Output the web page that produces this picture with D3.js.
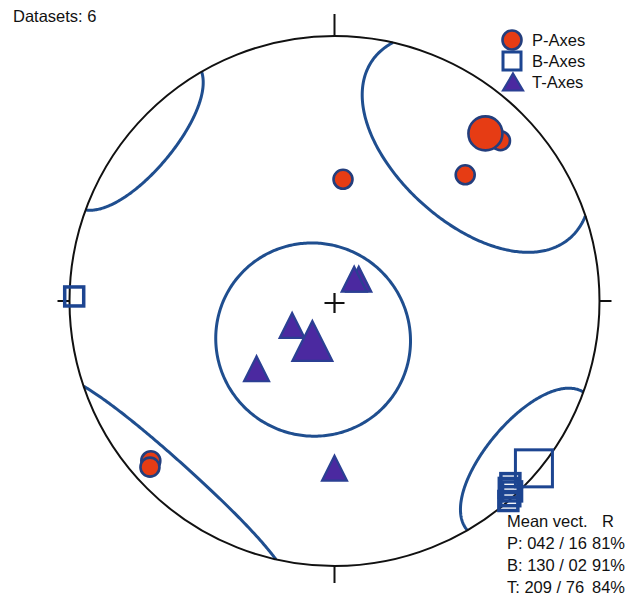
<!DOCTYPE html>
<html><head><meta charset="utf-8">
<script src="https://cdn.jsdelivr.net/npm/d3@7"></script>
<style>body{margin:0;background:#fff;} text{font-family:"Liberation Sans",Arial,sans-serif;font-size:16.5px;fill:#111;}</style>
</head><body><svg id="c" width="630" height="597"></svg>
<script>
// ---- data (trend / plunge in degrees) ----
const datasetCount = 6;
const pTrend  = [46, 46, 4, 229, 228];
const pPlunge = [14, 32, 52, 9, 7];
const bTrend  = [271, 136, 137, 137, 138, 139];
const bPlunge = [2, 5, 4, 2, 1, 0];
const tTrend  = [48, 42, 240, 229, 180];
const tPlunge = [80, 81, 75, 58, 37];
const axisNames   = ["P", "B", "T"];
const legendNames = ["P-Axes", "B-Axes", "T-Axes"];
const meanTrend   = [42, 130, 209];
const meanPlunge  = [16, 2, 76];
const meanR       = [81, 91, 84];
const coneAngle   = [33, 20, 30];

// ---- setup ----
const W = 630, H = 597, cx = 334.5, cy = 301, R = 265;
const svg = d3.select("#c");
const proj = d3.geoAzimuthalEqualArea().rotate([0, -90]).clipAngle(90)
  .scale(R / Math.SQRT2).translate([cx, cy]).precision(0.1);
const path = d3.geoPath(proj);
const toLL = (t, p) => [180 - t, p];
const pos = (t, p) => proj(toLL(t, p));

const redFill = "#e63c14", circStroke = "#233e7d", sqStroke = "#1d4591",
      triFill = "#4b29a0", triStroke = "#2b3f93", coneCol = "#1f4e8f";

// cones (small circles + antipodal wrap)
const gCone = svg.append("g");
meanTrend.forEach((t, i) => {
  const p = meanPlunge[i], a = coneAngle[i];
  [[t, p], [t + 180, -p]].forEach(([tt, pp]) => {
    const c = d3.geoCircle().center(toLL(tt, pp)).radius(a).precision(1)();
    gCone.append("path")
      .attr("d", path({type: "LineString", coordinates: c.coordinates[0]}))
      .attr("fill", "none").attr("stroke", coneCol).attr("stroke-width", 3);
  });
});

// primitive circle, ticks, centre cross
svg.append("circle").attr("cx", cx).attr("cy", cy).attr("r", R)
  .attr("fill", "none").attr("stroke", "#111").attr("stroke-width", 2);
const ticks = [[0, 22], [90, 12], [180, 17], [270, 12]];
ticks.forEach(([az, len]) => {
  const s = Math.sin(az * Math.PI / 180), c = -Math.cos(az * Math.PI / 180);
  svg.append("line").attr("x1", cx + s * R).attr("y1", cy + c * R)
    .attr("x2", cx + s * (R + len)).attr("y2", cy + c * (R + len))
    .attr("stroke", "#111").attr("stroke-width", 2);
});
svg.append("path").attr("d", `M${cx-10},${cy+2}H${cx+10}M${cx},${cy-8}V${cy+12}`)
  .attr("stroke", "#111").attr("stroke-width", 2.2);

// marker helpers
const tri = (w, h) => `M0,${-h/2}L${w/2},${h/2}L${-w/2},${h/2}Z`;
function circleAt(g, x, y, r) {
  g.append("circle").attr("cx", x).attr("cy", y).attr("r", r)
    .attr("fill", redFill).attr("stroke", circStroke).attr("stroke-width", 2.6);
}
function squareAt(g, x, y, s, sw) {
  g.append("rect").attr("x", x - s/2).attr("y", y - s/2).attr("width", s).attr("height", s)
    .attr("fill", "none").attr("stroke", sqStroke).attr("stroke-width", sw || 3);
}
function triAt(g, x, y, w, h) {
  g.append("path").attr("d", tri(w, h)).attr("transform", `translate(${x},${y})`)
    .attr("fill", triFill).attr("stroke", triStroke).attr("stroke-width", 2.2)
    .attr("stroke-linejoin", "miter");
}

const gPts = svg.append("g");
pTrend.forEach((t, i) => { const [x, y] = pos(t, pPlunge[i]); circleAt(gPts, x, y, 9.5); });
bTrend.forEach((t, i) => { const [x, y] = pos(t, bPlunge[i]); squareAt(gPts, x, y, 19, 3.5); });
tTrend.forEach((t, i) => { const [x, y] = pos(t, tPlunge[i]); triAt(gPts, x, y, 25, 25); });

// means
{
  let [x, y] = pos(meanTrend[0], meanPlunge[0]); circleAt(gPts, x, y, 17);
  [x, y] = pos(meanTrend[1], meanPlunge[1]); squareAt(gPts, x, y, 37, 3);
  [x, y] = pos(meanTrend[2], meanPlunge[2]); triAt(gPts, x, y, 40, 40);
}

// header
svg.append("text").attr("x", 13).attr("y", 22).text(`Datasets: ${datasetCount}`);

// legend
const lg = svg.append("g");
const ly = d3.scalePoint().domain(legendNames).range([40, 82]);
circleAt(lg, 512, ly(legendNames[0]), 9.5);
squareAt(lg, 512, ly(legendNames[1]), 18, 3);
triAt(lg, 513, ly(legendNames[2]), 20, 17);
legendNames.forEach(n => lg.append("text").attr("x", 532).attr("y", ly(n) + 6).text(n));

// mean vector table
const pad = (v, n) => String(v).padStart(n, "0");
const tg = svg.append("g");
tg.append("text").attr("x", 507).attr("y", 527).text("Mean vect.");
tg.append("text").attr("x", 602).attr("y", 527).text("R");
const rowY = d3.scalePoint().domain(axisNames).range([549, 593]);
axisNames.forEach((n, i) => {
  tg.append("text").attr("x", 507).attr("y", rowY(n))
    .text(`${n}: ${pad(meanTrend[i], 3)} / ${pad(meanPlunge[i], 2)}`);
  tg.append("text").attr("x", 592).attr("y", rowY(n)).text(`${meanR[i]}%`);
});
</script></body></html>
